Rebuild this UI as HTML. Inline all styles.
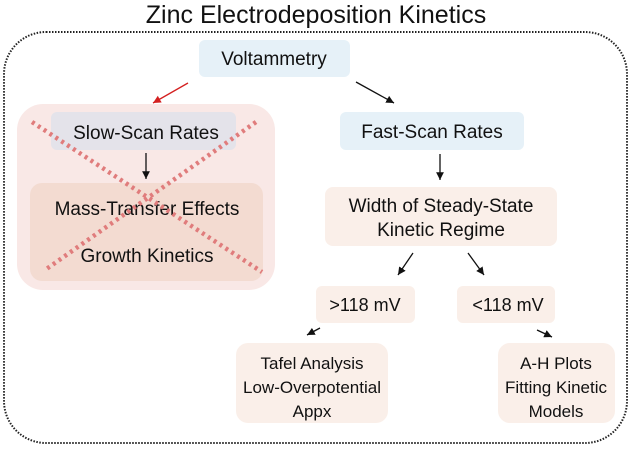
<!DOCTYPE html>
<html><head><meta charset="utf-8"><style>
body{margin:0;background:#fff;}
svg text{font-family:"Liberation Sans",Arial,sans-serif;fill:#111;text-anchor:middle;}
</style></head><body>
<svg width="633" height="454" xmlns="http://www.w3.org/2000/svg">
<defs>
<marker id="a" markerWidth="8" markerHeight="8" refX="6" refY="3" orient="auto"><path d="M0,0 L6,3 L0,6 z" fill="#111"/></marker>
<marker id="r" markerWidth="8" markerHeight="8" refX="6" refY="3" orient="auto"><path d="M0,0 L6,3 L0,6 z" fill="#d42020"/></marker>
</defs>
<text x="316" y="23" font-size="25">Zinc Electrodeposition Kinetics</text>
<rect x="4" y="32" width="623" height="411" rx="42" fill="none" stroke="#222" stroke-width="2" stroke-dasharray="1.5 1.5"/>
<rect x="199" y="40" width="151" height="37" rx="6" fill="#e6f1f8"/>
<text x="274" y="65" font-size="19">Voltammetry</text>
<line x1="188" y1="83" x2="153" y2="103" stroke="#d42020" stroke-width="1.3" marker-end="url(#r)"/>
<line x1="356" y1="82" x2="394" y2="103" stroke="#111" stroke-width="1.3" marker-end="url(#a)"/>
<rect x="17" y="104" width="258" height="186" rx="26" fill="#f9e8e6"/>
<rect x="51" y="112" width="185" height="38" rx="6" fill="#e4e3ea"/>
<text x="146" y="139" font-size="19">Slow-Scan Rates</text>
<line x1="146" y1="153" x2="146" y2="179" stroke="#111" stroke-width="1.3" marker-end="url(#a)"/>
<rect x="30" y="183" width="233" height="98" rx="12" fill="#f3dbd1"/>
<text x="147" y="215" font-size="19">Mass-Transfer Effects</text>
<text x="147" y="262" font-size="19">Growth Kinetics</text>
<line x1="32" y1="122" x2="262" y2="272" stroke="#e07c7c" stroke-width="4.5" stroke-dasharray="3 4"/>
<line x1="256" y1="122" x2="45" y2="270" stroke="#e07c7c" stroke-width="4.5" stroke-dasharray="3 4"/>
<rect x="340" y="112" width="184" height="38" rx="6" fill="#e6f1f8"/>
<text x="432" y="138" font-size="19">Fast-Scan Rates</text>
<line x1="440" y1="154" x2="440" y2="180" stroke="#111" stroke-width="1.3" marker-end="url(#a)"/>
<rect x="325" y="187" width="232" height="59" rx="8" fill="#faefe9"/>
<text x="441" y="212" font-size="19">Width of Steady-State</text>
<text x="441" y="236" font-size="19">Kinetic Regime</text>
<line x1="413" y1="253" x2="398" y2="275" stroke="#111" stroke-width="1.3" marker-end="url(#a)"/>
<line x1="468" y1="253" x2="484" y2="275" stroke="#111" stroke-width="1.3" marker-end="url(#a)"/>
<rect x="316" y="286" width="99" height="37" rx="6" fill="#faefe9"/>
<text x="365" y="311" font-size="18">&gt;118 mV</text>
<rect x="457" y="286" width="98" height="37" rx="6" fill="#faefe9"/>
<text x="508" y="311" font-size="18">&lt;118 mV</text>
<line x1="320" y1="328" x2="307" y2="335" stroke="#111" stroke-width="1.3" marker-end="url(#a)"/>
<line x1="537" y1="330" x2="552" y2="337" stroke="#111" stroke-width="1.3" marker-end="url(#a)"/>
<rect x="236" y="343" width="152" height="80" rx="12" fill="#faefe9"/>
<text x="312" y="369" font-size="17">Tafel Analysis</text>
<text x="312" y="393" font-size="17">Low-Overpotential</text>
<text x="312" y="417" font-size="17">Appx</text>
<rect x="498" y="343" width="117" height="80" rx="12" fill="#faefe9"/>
<text x="556" y="369" font-size="17">A-H Plots</text>
<text x="556" y="393" font-size="17">Fitting Kinetic</text>
<text x="556" y="417" font-size="17">Models</text>
</svg>
</body></html>
